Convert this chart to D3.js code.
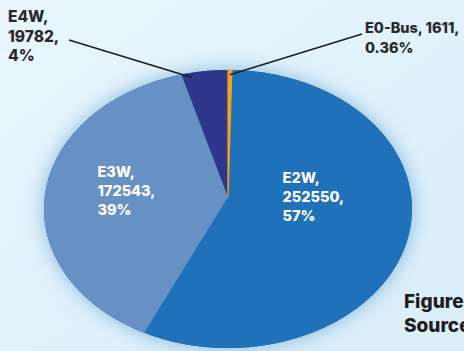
<!DOCTYPE html>
<html>
<head>
<meta charset="utf-8">
<script src="https://cdn.jsdelivr.net/npm/d3@7"></script>
<style>
  html, body { margin: 0; padding: 0; overflow: hidden; }
  body { width: 464px; height: 351px; }
  text { font-family: Inter, "Open Sans", sans-serif; font-weight: 800; }
</style>
</head>
<body>
<div class="chart"></div>
<script>
const categories = ['E0-Bus', 'E2W', 'E3W', 'E4W'];
const sales = [1611, 252550, 172543, 19782];
const shares = ['0.36%', '57%', '39%', '4%'];

const width = 464,
  height = 351,
  cx = 228,
  cy = 197,
  rx = 183.3,
  ry = 138,
  persp = 0.0864;

const colors = d3.scaleOrdinal()
  .domain(categories)
  .range(['#f5a21c', '#1f72b9', '#6790c4', '#2d388b']);

const svg = d3.select('.chart')
  .append('svg')
  .attr('width', width)
  .attr('height', height);

const defs = svg.append('defs');

const bg = defs.append('linearGradient')
  .attr('id', 'bg')
  .attr('x1', 0).attr('y1', 0).attr('x2', 1).attr('y2', 1);
bg.append('stop').attr('offset', 0).attr('stop-color', '#e9f6fd');
bg.append('stop').attr('offset', 1).attr('stop-color', '#d9eef9');

defs.append('filter')
  .attr('id', 'glow')
  .attr('x', -0.2).attr('y', -0.2).attr('width', 1.4).attr('height', 1.4)
  .append('feDropShadow')
  .attr('dx', 0).attr('dy', 0)
  .attr('stdDeviation', 10)
  .attr('flood-color', '#4a8fc8')
  .attr('flood-opacity', 0.6);

svg.append('rect')
  .attr('width', width)
  .attr('height', height)
  .attr('fill', 'url(#bg)');

// tilted pie: unit circle -> screen with a little perspective
const xScale = d3.scaleLinear().domain([-1, 1]).range([cx - rx, cx + rx]);
const yScale = d3.scaleLinear().domain([-1, 1]).range([cy + ry, cy - ry]);

function project(angle, r = 1) {
  const depth = 1 + persp * r * Math.cos(angle);
  return [
    xScale(r * Math.sin(angle) / depth),
    yScale(r * Math.cos(angle) / depth)
  ];
}

const pie = d3.pie().sort(null).value(d => d)(sales);

function slicePath(d) {
  const steps = Math.max(2, Math.ceil((d.endAngle - d.startAngle) / 0.01));
  const rim = d3.range(steps + 1)
    .map(i => project(d.startAngle + (d.endAngle - d.startAngle) * i / steps));
  return d3.line()([project(0, 0), ...rim]) + 'Z';
}

const outline = d3.range(0, 2 * Math.PI + 0.01, 0.01).map(a => project(a));
svg.append('path')
  .attr('d', d3.line()(outline) + 'Z')
  .attr('fill', '#1f72b9')
  .attr('filter', 'url(#glow)');

// draw the big slices first so the thin orange one stays on top
const order = d3.range(pie.length).sort((a, b) => sales[b] - sales[a]);
svg.selectAll('.slice')
  .data(order.map(i => pie[i]))
  .join('path')
  .attr('class', 'slice')
  .attr('d', slicePath)
  .attr('fill', d => colors(categories[d.index]))
  .attr('stroke', d => d.index === 0 ? colors(categories[0]) : 'none')
  .attr('stroke-width', 1.2);

// inner labels
const innerNudge = { 'E2W': [-41, -31], 'E3W': [-34, -14] };
[1, 2].forEach(i => {
  const d = pie[i];
  const [x, y] = project((d.startAngle + d.endAngle) / 2, 0.53);
  const t = svg.append('text')
    .attr('y', y + innerNudge[categories[i]][1])
    .attr('fill', '#ffffff')
    .style('font-size', '14.5px');
  [categories[i] + ',', sales[i] + ',', shares[i]].forEach((s, k) => {
    t.append('tspan')
      .attr('x', x + innerNudge[categories[i]][0])
      .attr('dy', k === 0 ? 0 : 19)
      .text(s);
  });
});

// outer labels with leader lines
const outer = [
  { i: 3, at: 0.2, tx: 8, ty: 22, lx: 69, ly: 40, size: 15.5,
    lines: [categories[3] + ',', sales[3] + ',', shares[3]] },
  { i: 0, at: 0.5, tx: 365, ty: 33, lx: 362, ly: 34, size: 14.5,
    lines: [categories[0] + ', ' + sales[0] + ',', shares[0]] }
];

outer.forEach(o => {
  const d = pie[o.i];
  const end = project(d.startAngle + (d.endAngle - d.startAngle) * o.at, 0.96);
  svg.append('line')
    .attr('x1', o.lx).attr('y1', o.ly)
    .attr('x2', end[0]).attr('y2', end[1])
    .attr('stroke', '#1c1c1c')
    .attr('stroke-width', 1.5);
  const t = svg.append('text')
    .attr('y', o.ty)
    .attr('fill', '#2a2a2a')
    .style('font-size', o.size + 'px');
  o.lines.forEach((s, k) => {
    t.append('tspan')
      .attr('x', o.tx)
      .attr('dy', k === 0 ? 0 : 19.5)
      .text(s);
  });
});

// caption runs off the right edge, as in the original
const caption = svg.append('text')
  .attr('y', 308)
  .attr('fill', '#1e1e1e')
  .style('font-size', '19px');
['Figure', 'Source'].forEach((s, k) => {
  caption.append('tspan')
    .attr('x', 404)
    .attr('dy', k === 0 ? 0 : 24)
    .text(s);
});
</script>
</body>
</html>
